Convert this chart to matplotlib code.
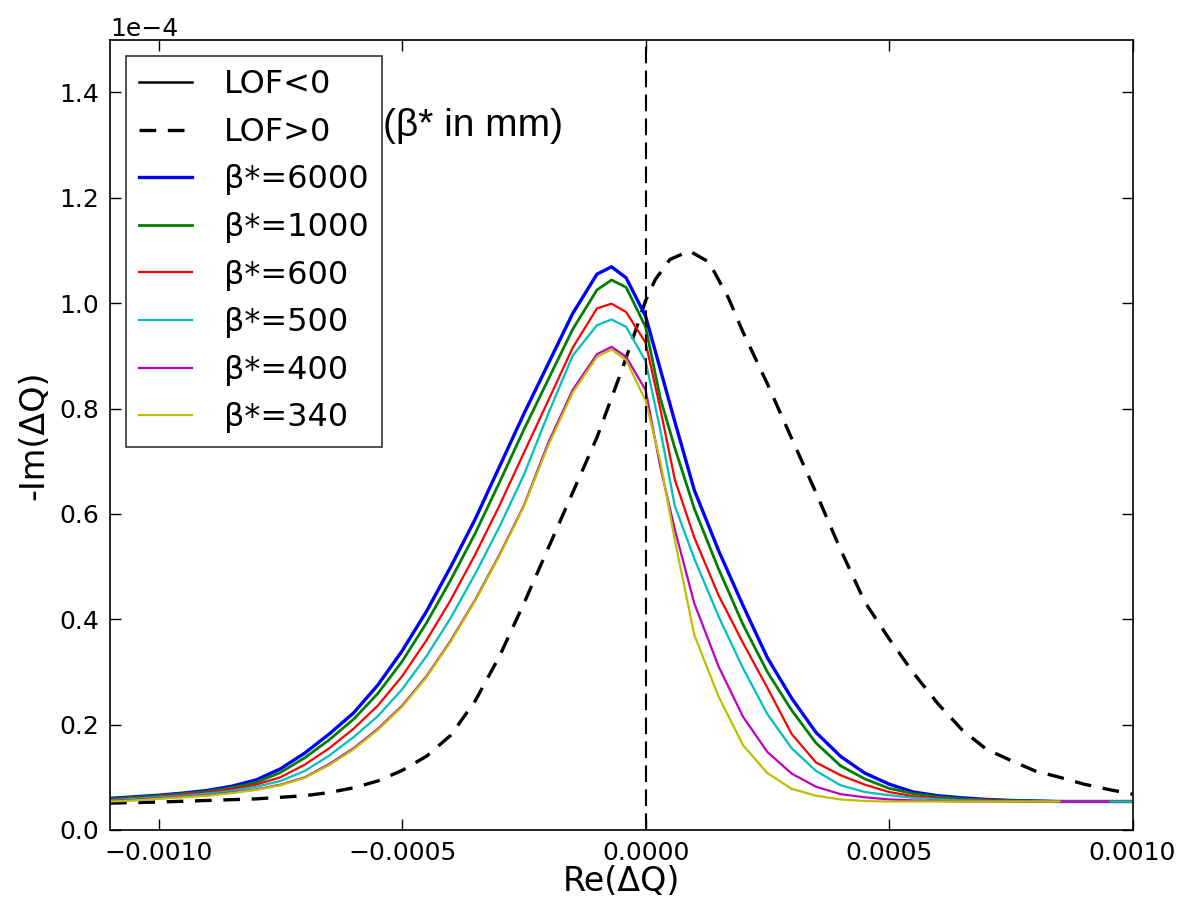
import matplotlib
matplotlib.use("Agg")
import matplotlib.pyplot as plt

# x grid shared by the beta* curves (Re(dQ))
re_dq = [-0.0011, -0.00105, -0.001, -0.00095, -0.0009, -0.00085, -0.0008, -0.00075,
         -0.0007, -0.00065, -0.0006, -0.00055, -0.0005, -0.00045, -0.0004, -0.00035,
         -0.0003, -0.00025, -0.0002, -0.00015, -0.0001, -0.00007, -0.00004, 0.0,
         0.00003, 0.00006, 0.0001, 0.00015, 0.0002, 0.00025, 0.0003, 0.00035,
         0.0004, 0.00045, 0.0005, 0.00055, 0.0006, 0.00065, 0.0007, 0.00075,
         0.0008, 0.00085, 0.0009, 0.00095, 0.001]

# -Im(dQ) in units of 1e-4 (curves end at different Re(dQ))
beta_6000 = [0.060, 0.063, 0.066, 0.070, 0.075, 0.083, 0.095, 0.116, 0.146, 0.182, 0.222,
             0.275, 0.340, 0.415, 0.500, 0.590, 0.690, 0.790, 0.885, 0.980, 1.055, 1.069,
             1.048, 0.975, 0.875, 0.775, 0.645, 0.530, 0.426, 0.327, 0.250, 0.185, 0.140,
             0.108, 0.087, 0.072, 0.065, 0.061, 0.058, 0.056, 0.055, 0.054, 0.054, 0.054,
             0.054]
beta_1000 = [0.059, 0.062, 0.065, 0.069, 0.073, 0.080, 0.090, 0.109, 0.137, 0.171, 0.210,
             0.259, 0.320, 0.393, 0.475, 0.563, 0.660, 0.760, 0.855, 0.950, 1.025, 1.044,
             1.030, 0.955, 0.820, 0.725, 0.610, 0.495, 0.390, 0.300, 0.227, 0.165, 0.122,
             0.097, 0.079, 0.069, 0.063, 0.059, 0.057, 0.056, 0.055, 0.054, 0.054, 0.054,
             0.054]
beta_600 = [0.057, 0.060, 0.063, 0.067, 0.071, 0.077, 0.086, 0.100, 0.124, 0.155, 0.192,
            0.236, 0.292, 0.360, 0.437, 0.523, 0.616, 0.716, 0.815, 0.915, 0.990, 0.999,
            0.983, 0.925, 0.800, 0.665, 0.555, 0.445, 0.355, 0.270, 0.182, 0.128, 0.104,
            0.086, 0.072, 0.064, 0.060, 0.057, 0.056, 0.055, 0.054, 0.054, 0.054, 0.054,
            0.054]
beta_500 = [0.056, 0.059, 0.062, 0.065, 0.069, 0.074, 0.082, 0.093, 0.112, 0.141, 0.176,
            0.216, 0.267, 0.330, 0.403, 0.486, 0.576, 0.674, 0.790, 0.900, 0.958, 0.969,
            0.955, 0.890, 0.760, 0.615, 0.515, 0.405, 0.307, 0.220, 0.155, 0.112, 0.085,
            0.072, 0.066, 0.061, 0.058, 0.056, 0.055, 0.054, 0.054, 0.054, 0.054, 0.054,
            0.054]
beta_400 = [0.055, 0.057, 0.060, 0.063, 0.066, 0.071, 0.077, 0.086, 0.100, 0.125, 0.155,
            0.192, 0.236, 0.292, 0.360, 0.437, 0.523, 0.616, 0.735, 0.835, 0.903, 0.917,
            0.898, 0.835, 0.690, 0.570, 0.430, 0.310, 0.215, 0.148, 0.107, 0.082, 0.068,
            0.062, 0.058, 0.056, 0.055, 0.054, 0.054, 0.054, 0.054, 0.054, 0.054, 0.054]
beta_340 = [0.054, 0.056, 0.059, 0.062, 0.065, 0.070, 0.076, 0.085, 0.099, 0.123, 0.153,
            0.190, 0.234, 0.290, 0.358, 0.435, 0.521, 0.614, 0.730, 0.830, 0.898, 0.912,
            0.892, 0.815, 0.700, 0.550, 0.370, 0.253, 0.161, 0.108, 0.078, 0.065, 0.058,
            0.055, 0.054, 0.054, 0.054, 0.054, 0.054, 0.054, 0.054, 0.054]

# LOF>0 curve
re_dq_lof = [-0.0011, -0.001, -0.0009, -0.0008, -0.0007, -0.00065, -0.0006, -0.00055,
             -0.0005, -0.00045, -0.0004, -0.00035, -0.0003, -0.00025, -0.0002, -0.00015,
             -0.0001, -0.00005, -0.00002, 0.0, 0.00002, 0.00005, 0.00009, 0.00013,
             0.00017, 0.0002, 0.00025, 0.0003, 0.00035, 0.0004, 0.00045, 0.0005, 0.00055,
             0.0006, 0.00065, 0.0007, 0.00075, 0.0008, 0.00085, 0.0009, 0.00095, 0.001]
lof_pos = [0.051, 0.053, 0.056, 0.059, 0.065, 0.071, 0.080, 0.093, 0.113, 0.140, 0.180,
           0.245, 0.330, 0.430, 0.535, 0.640, 0.745, 0.870, 0.950, 1.005, 1.045, 1.083,
           1.099, 1.078, 1.010, 0.945, 0.847, 0.743, 0.640, 0.533, 0.433, 0.363, 0.298,
           0.240, 0.190, 0.153, 0.132, 0.112, 0.100, 0.087, 0.077, 0.068]

series = [beta_6000, beta_1000, beta_600, beta_500, beta_400, beta_340]
labels = ["β*=6000", "β*=1000", "β*=600", "β*=500", "β*=400", "β*=340"]
colors = ["b", "g", "r", "c", "m", "y"]
widths = [2.4, 2.0, 1.6, 1.6, 1.6, 1.6]

fig = plt.figure(figsize=(11.78, 8.99), dpi=100)
ax = fig.add_axes([0.0934, 0.0768, 0.868, 0.879])

handles = []
solid, = ax.plot([], [], color="k", lw=1.8, label="LOF<0")
dashed, = ax.plot(re_dq_lof, [v * 1e-4 for v in lof_pos], color="k", lw=2.4,
                  dashes=(5, 3.5), label="LOF>0")
handles += [solid, dashed]
for ys, lab, col, w in zip(series, labels, colors, widths):
    ln, = ax.plot(re_dq[:len(ys)], [v * 1e-4 for v in ys], color=col, lw=w, label=lab)
    handles.append(ln)

ax.axvline(0, color="k", lw=1.5, dashes=(8, 3.5))

ax.set_xlim(-0.0011, 0.001)
ax.set_ylim(0, 1.5e-4)
ax.set_xticks([-0.001, -0.0005, 0.0, 0.0005, 0.001])
ax.set_yticks([i * 0.2e-4 for i in range(8)])
ax.ticklabel_format(axis="y", style="sci", scilimits=(0, 0))
ax.yaxis.get_offset_text().set_fontsize(18)
ax.tick_params(direction="in", top=True, right=True, length=8, width=1,
               labelsize=18, pad=8)
for sp in ax.spines.values():
    sp.set_linewidth(1.2)

ax.set_xlabel("Re(ΔQ)", fontsize=24, labelpad=0)
ax.set_ylabel("-Im(ΔQ)", fontsize=24, labelpad=6)

leg = ax.legend(handles=handles, loc="upper left", fontsize=23, frameon=True,
                fancybox=False, edgecolor="k", handlelength=1.65, handletextpad=1.0,
                labelspacing=0.52, borderpad=0.42, borderaxespad=0.5)
leg.get_frame().set_linewidth(1.2)

ax.text(0.267, 0.891, "(β* in mm)", transform=ax.transAxes, fontsize=28,
        family="Liberation Sans", va="center", ha="left", zorder=10)

fig.savefig("out.png", dpi=100, facecolor="white")
